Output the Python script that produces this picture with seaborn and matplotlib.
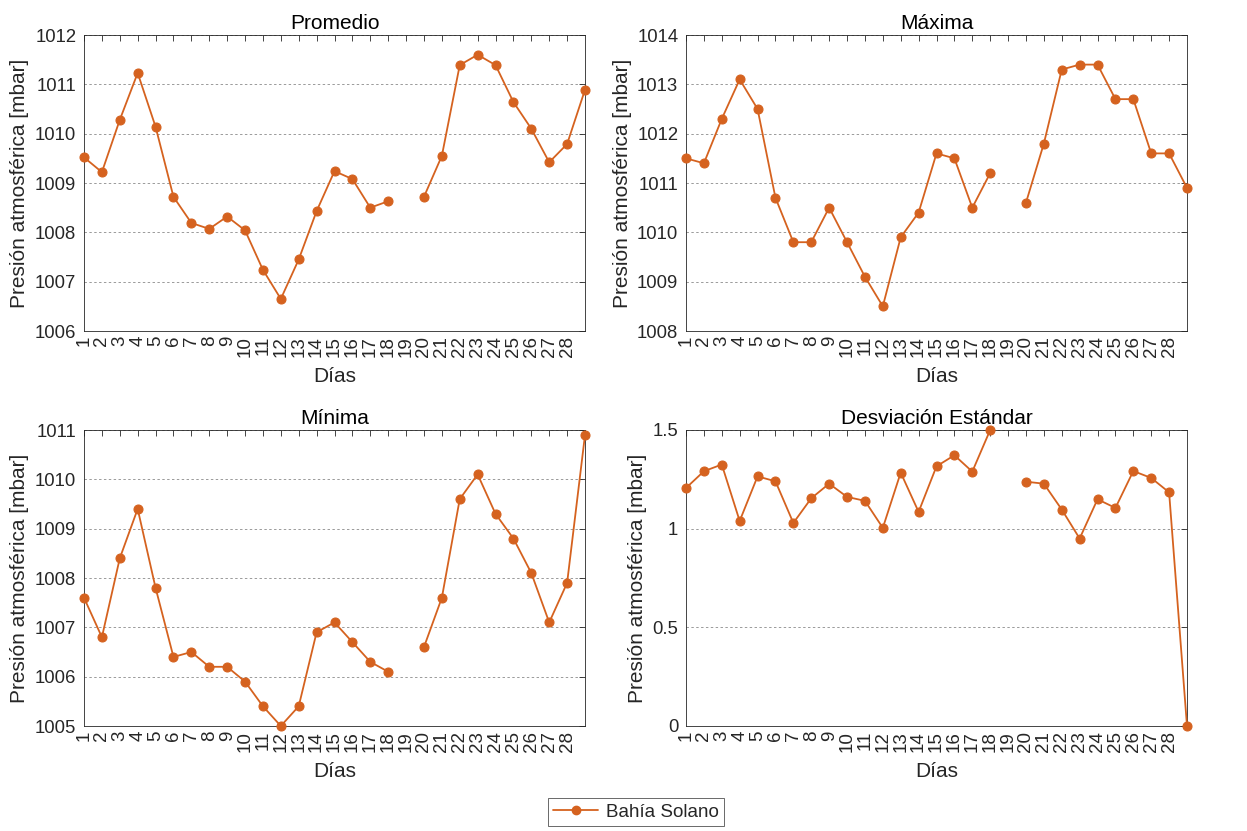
import numpy as np
import pandas as pd
import matplotlib
matplotlib.use("Agg")
import matplotlib.pyplot as plt
from matplotlib.lines import Line2D
import seaborn as sns

days = list(range(1, 30))
tick_days = list(range(1, 29))

promedio = [1009.52, 1009.22, 1010.28, 1011.23, 1010.14, 1008.72, 1008.19, 1008.07, 1008.32, 1008.04,
            1007.24, 1006.65, 1007.45, 1008.43, 1009.24, 1009.08, 1008.50, 1008.63, np.nan, 1008.72,
            1009.55, 1011.39, 1011.60, 1011.39, 1010.64, 1010.10, 1009.42, 1009.79, 1010.89]
maxima = [1011.5, 1011.4, 1012.3, 1013.1, 1012.5, 1010.7, 1009.8, 1009.8, 1010.5, 1009.8,
          1009.1, 1008.5, 1009.9, 1010.4, 1011.6, 1011.5, 1010.5, 1011.2, np.nan, 1010.6,
          1011.8, 1013.3, 1013.4, 1013.4, 1012.7, 1012.7, 1011.6, 1011.6, 1010.9]
minima = [1007.6, 1006.8, 1008.4, 1009.4, 1007.8, 1006.4, 1006.5, 1006.2, 1006.2, 1005.9,
          1005.4, 1005.0, 1005.4, 1006.9, 1007.1, 1006.7, 1006.3, 1006.1, np.nan, 1006.6,
          1007.6, 1009.6, 1010.1, 1009.3, 1008.8, 1008.1, 1007.1, 1007.9, 1010.9]
desviacion = [1.206, 1.291, 1.325, 1.039, 1.265, 1.240, 1.029, 1.154, 1.228, 1.161,
              1.141, 1.004, 1.284, 1.085, 1.316, 1.372, 1.289, 1.500, np.nan, 1.238,
              1.228, 1.097, 0.950, 1.149, 1.105, 1.292, 1.257, 1.184, 0.0]

titles = ["Promedio", "Máxima", "Mínima", "Desviación Estándar"]
series = [promedio, maxima, minima, desviacion]
ylims = [(1006, 1012), (1008, 1014), (1005, 1011), (0, 1.5)]
yticks = [list(range(1006, 1013)), list(range(1008, 1015)), list(range(1005, 1012)), [0, 0.5, 1, 1.5]]
ytick_labels = [[str(v) for v in yticks[0]], [str(v) for v in yticks[1]],
                [str(v) for v in yticks[2]], ["0", "0.5", "1", "1.5"]]
station = "Bahía Solano"

sns.set_theme(style="white")
plt.rcParams['font.family'] = ['Liberation Sans', 'DejaVu Sans']

color = "#D5621F"
W, H = 1247, 831
fig = plt.figure(figsize=(W / 100, H / 100), dpi=100)

positions = [(84, 35), (686, 35), (84, 430), (686, 430)]
aw, ah = 501, 296

for i, (title, vals) in enumerate(zip(titles, series)):
    x0, y0 = positions[i]
    ax = fig.add_axes([x0 / W, 1 - (y0 + ah) / H, aw / W, ah / H])
    seg = [1 if d < 19 else 2 for d in days]
    df = pd.DataFrame({"dia": days, "val": vals, "seg": seg}).dropna()
    sns.lineplot(data=df, x="dia", y="val", units="seg", estimator=None, color=color,
                 marker="o", markersize=6.5, markeredgecolor=color, linewidth=1.3, ax=ax,
                 clip_on=False, zorder=3)
    ax.set_xlim(1, 29)
    ax.set_ylim(*ylims[i])
    ax.set_xticks(tick_days)
    ax.set_xticklabels([str(d) for d in tick_days], rotation=90, fontsize=13.5, color="#262626")
    ax.set_yticks(yticks[i])
    ax.set_yticklabels(ytick_labels[i], fontsize=13.3, color="#262626")
    ax.tick_params(axis="both", direction="in", length=4, width=0.6, color="#262626",
                   top=True, right=True)
    ax.tick_params(axis="x", pad=3.5)
    ax.tick_params(axis="y", pad=5.5)
    ax.yaxis.grid(True, linestyle=(0, (2.5, 2.5)), color="#9a9a9a", linewidth=0.7)
    ax.xaxis.grid(False)
    for sp in ax.spines.values():
        sp.set_color("#262626")
        sp.set_linewidth(0.6)
    ax.set_title(title, fontsize=15, color="black", pad=4)
    ax.set_xlabel("Días", fontsize=15, color="#262626", labelpad=7)
    ax.set_ylabel("Presión atmosférica [mbar]", fontsize=15, color="#262626", labelpad=4)

handle = Line2D([0], [0], color=color, marker="o", markersize=6, linewidth=1.3)
fig.legend([handle], [station], loc="center", bbox_to_anchor=(636 / W, 1 - 812 / H),
           fontsize=13.5, frameon=True, fancybox=False, edgecolor="#262626",
           handlelength=2.4, borderpad=0.3, handletextpad=0.4, borderaxespad=0)
leg = fig.legends[0]
leg.get_frame().set_linewidth(0.6)

fig.savefig("out.png", dpi=100, facecolor="white")
